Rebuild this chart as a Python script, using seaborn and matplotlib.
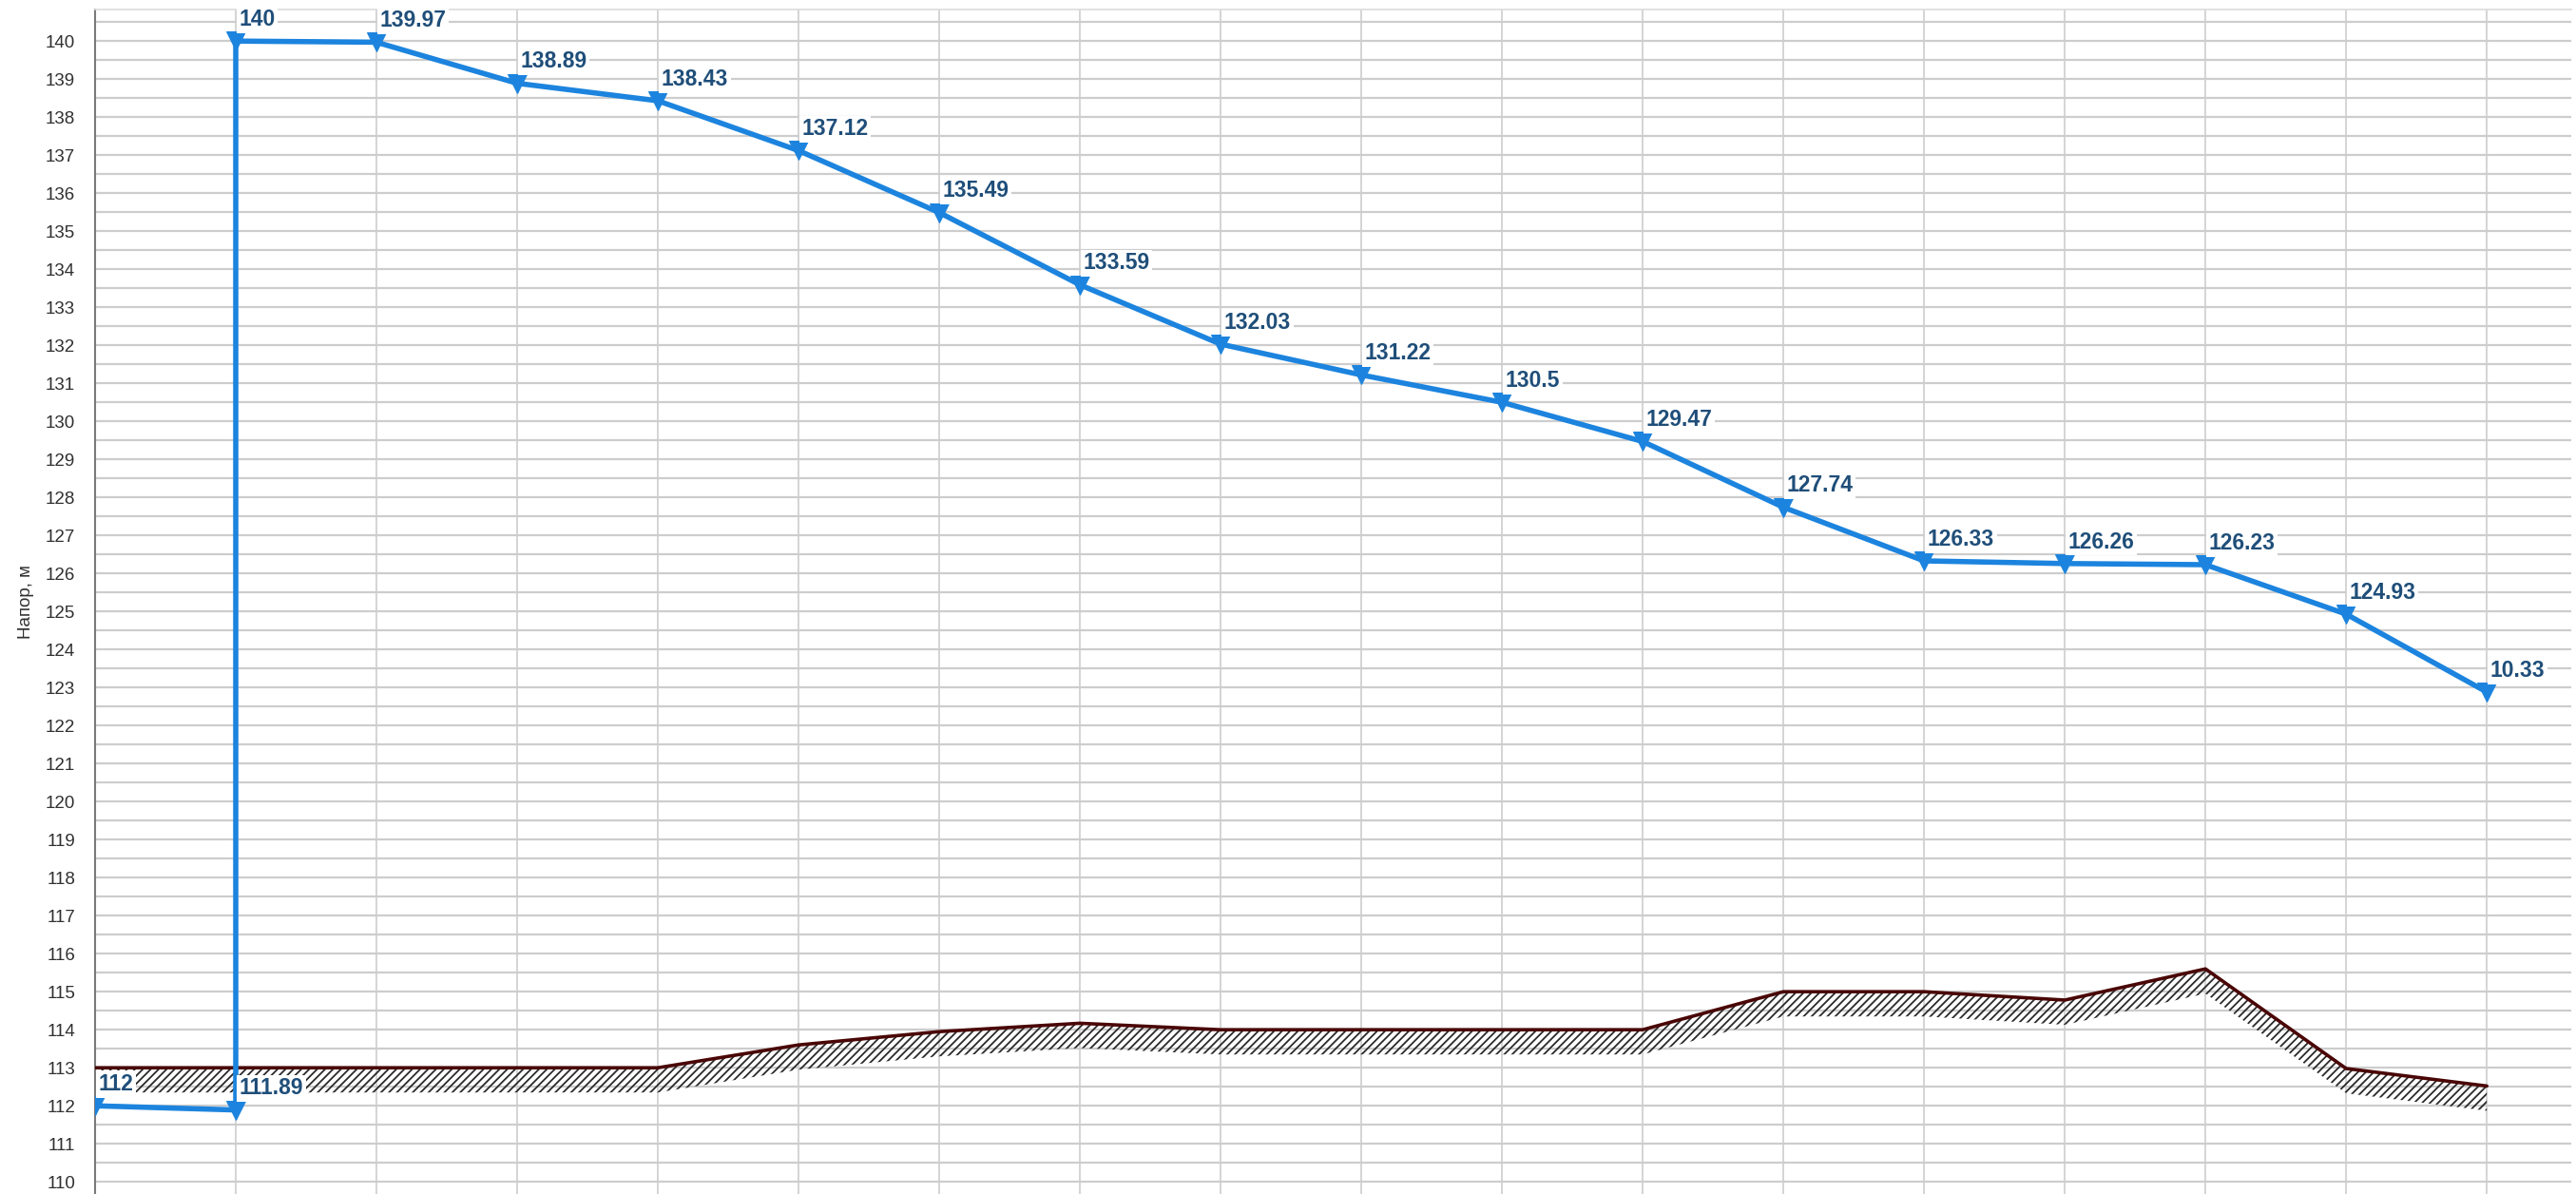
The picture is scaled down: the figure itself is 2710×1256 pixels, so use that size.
import matplotlib
matplotlib.use('Agg')
import matplotlib.pyplot as plt
import seaborn as sns
import numpy as np
from matplotlib.ticker import MultipleLocator, NullFormatter

# ---- data ----
head_x = [0, 1, 1, 2, 3, 4, 5, 6, 7, 8, 9, 10, 11, 12, 13, 14, 15, 16, 17]
head_y = [112.0, 111.89, 140.0, 139.97, 138.89, 138.43, 137.12, 135.49, 133.59,
          132.03, 131.22, 130.5, 129.47, 127.74, 126.33, 126.26, 126.23, 124.93, 122.88]
head_labels = ['112', '111.89', '140', '139.97', '138.89', '138.43', '137.12', '135.49',
               '133.59', '132.03', '131.22', '130.5', '129.47', '127.74', '126.33',
               '126.26', '126.23', '124.93', '10.33']
ground_x = list(range(18))
ground_y = [113.0, 113.0, 113.0, 113.0, 113.0, 113.6, 113.95, 114.17, 114.0, 114.0,
            114.0, 114.0, 115.0, 115.0, 114.78, 115.6, 112.98, 112.52]
y_ticks = list(range(110, 141))
y_label = 'Напор, м'

# ---- style ----
sns.set_style('white')
plt.rcParams['font.family'] = ['Liberation Sans', 'DejaVu Sans']
plt.rcParams['hatch.linewidth'] = 1.3
plt.rcParams['hatch.color'] = '#2a2a2a'

W, H = 2710, 1256
fig = plt.figure(figsize=(W / 100, H / 100), dpi=100)
ax = fig.add_axes([100 / W, 0, 2605 / W, 1246 / H])

grid_c = '#cdcdcd'

# ground line with hatched layer
sns.lineplot(x=ground_x, y=ground_y, color='#4a0606', linewidth=2.6, ax=ax, zorder=3)
ax.fill_between(ground_x, ground_y, np.array(ground_y) - 0.65, facecolor='none',
                edgecolor='#2a2a2a', hatch='////', linewidth=0, zorder=2)

# head line
sns.lineplot(x=head_x, y=head_y, sort=False, estimator=None, color='#1c84de',
             linewidth=4.0, marker='v', markersize=15, markeredgecolor='#1c84de',
             markerfacecolor='#1c84de', ax=ax, zorder=4)

for x, y, lab in zip(head_x, head_y, head_labels):
    ax.annotate(lab, (x, y), xytext=(2.5, 8), textcoords='offset points',
                ha='left', va='bottom', fontsize=16.5, fontweight='bold', color='#1f4e79',
                bbox=dict(boxstyle='square,pad=0.12', fc='white', ec='none'), zorder=5)

# axes
ax.set_xlim(0, 17.6)
ax.set_ylim(109.68, 140.83)
ax.set_yticks(y_ticks)
ax.yaxis.set_minor_locator(MultipleLocator(0.5))
ax.yaxis.set_minor_formatter(NullFormatter())
ax.set_xticks(ground_x)
ax.set_xticklabels([])
ax.tick_params(axis='x', length=0)
ax.tick_params(axis='y', which='both', direction='out', length=12, width=1.4,
               color=grid_c, labelsize=13.5, labelcolor='#303030', pad=3)
ax.grid(True, axis='y', which='both', color=grid_c, linewidth=1.6, zorder=0)
ax.grid(True, axis='x', which='major', color=grid_c, linewidth=1.2, zorder=0)
ax.set_axisbelow(True)

for s in ['right', 'bottom']:
    ax.spines[s].set_visible(False)
ax.spines['top'].set_color('#dcdcdc')
ax.spines['top'].set_linewidth(1.2)
ax.spines['left'].set_color('#7a7a7a')
ax.spines['left'].set_linewidth(1.5)

ax.set_xlabel('')
ax.set_ylabel(y_label, fontsize=13.5, color='#303030')
ax.yaxis.set_label_coords(-0.0246, 0.5)

fig.savefig('out.png', dpi=100)
